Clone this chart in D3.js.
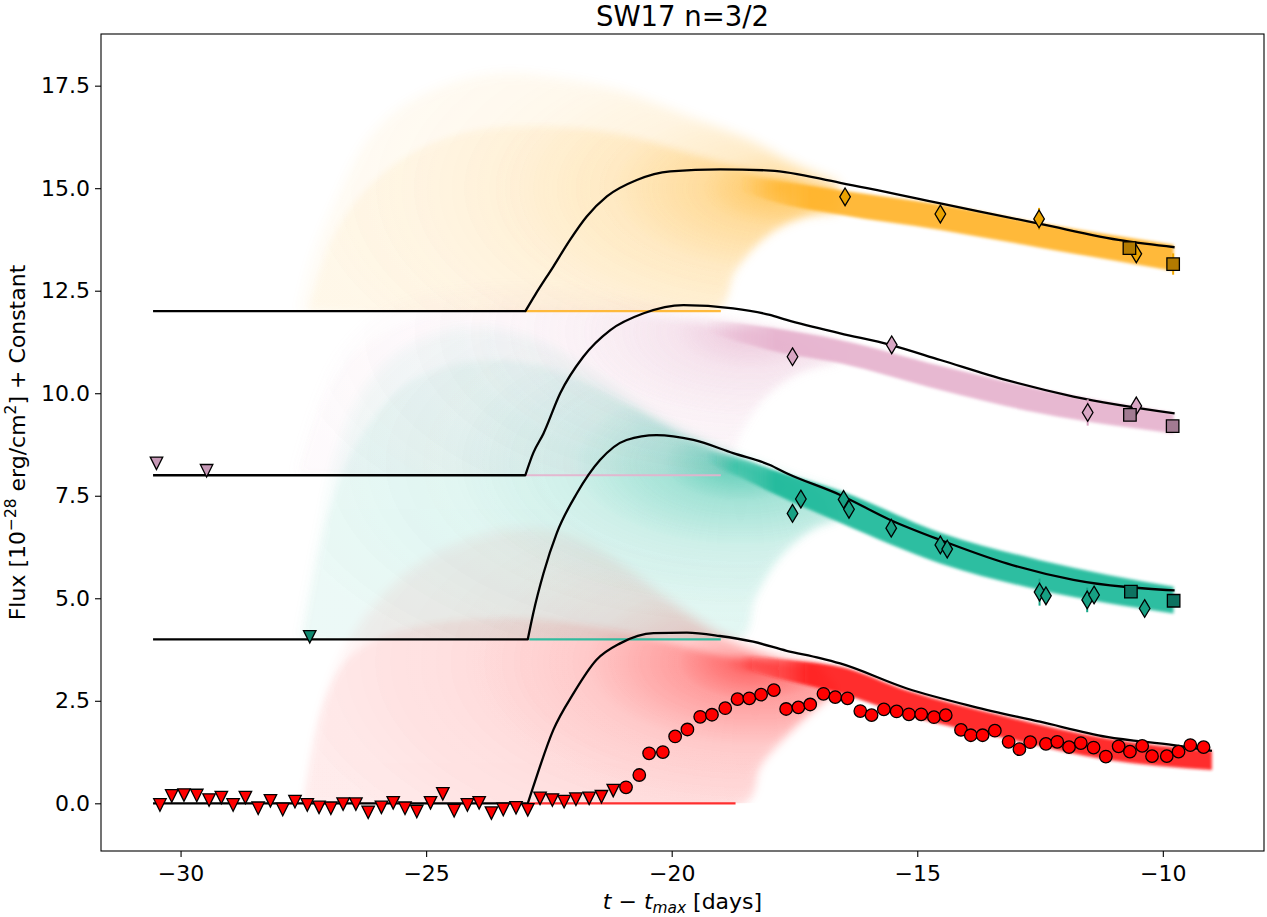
<!DOCTYPE html>
<html><head><meta charset="utf-8">
<script src="https://cdn.jsdelivr.net/npm/d3@7"></script>
<style>
body{margin:0;background:#fff}
svg{display:block}
text{font-family:"DejaVu Sans",sans-serif;fill:#000}
</style>
</head><body>
<svg id="c" width="1267" height="917"></svg>
<script>
// ---------------- data ----------------
const chartTitle = "SW17 n=3/2";
const xTicks = [-30, -25, -20, -15, -10];
const yTicks = [0, 2.5, 5, 7.5, 10, 12.5, 15, 17.5];
const xDomain = [-31.62, -7.94];
const yDomain = [-1.163, 18.76];

// red band (offset 0)
const redLimT = [-30.42,-30.18,-29.93,-29.67,-29.42,-29.17,-28.93,-28.68,-28.42,-28.17,-27.92,-27.67,-27.42,-27.18,-26.94,-26.69,-26.43,-26.18,-25.91,-25.67,-25.43,-25.19,-24.91,-24.66,-24.43,-24.16,-23.92,-23.67,-23.43,-23.17,-22.93,-22.68,-22.43,-22.19,-21.95,-21.68,-21.43,-21.19];
const redLimF = [-0.04,0.18,0.20,0.19,0.08,0.14,-0.04,0.14,-0.12,0.06,-0.15,0.04,-0.04,-0.10,-0.12,-0.02,-0.02,-0.22,-0.10,0.01,-0.12,-0.20,0.01,0.23,-0.18,-0.04,0.01,-0.24,-0.15,-0.11,-0.16,0.12,0.08,0.04,0.10,0.12,0.16,0.31];
const redDetT = [-20.93,-20.66,-20.46,-20.18,-19.93,-19.68,-19.42,-19.18,-18.91,-18.66,-18.42,-18.18,-17.92,-17.67,-17.42,-17.18,-16.91,-16.67,-16.42,-16.16,-15.93,-15.68,-15.42,-15.17,-14.92,-14.66,-14.42,-14.11,-13.91,-13.67,-13.42,-13.14,-12.92,-12.70,-12.38,-12.15,-11.91,-11.67,-11.41,-11.16,-10.90,-10.67,-10.42,-10.22,-9.92,-9.68,-9.44,-9.17];
const redDetF = [0.39,0.69,1.22,1.25,1.63,1.80,2.11,2.16,2.32,2.54,2.56,2.65,2.76,2.30,2.34,2.41,2.67,2.59,2.56,2.25,2.15,2.29,2.24,2.17,2.17,2.10,2.15,1.79,1.66,1.66,1.77,1.50,1.32,1.49,1.45,1.50,1.37,1.47,1.36,1.14,1.39,1.26,1.40,1.15,1.15,1.26,1.42,1.37];
const redModelT = [-30.56,-22.93,-22.82,-22.41,-22.0,-21.53,-21.05,-20.37,-19.69,-19.02,-18.34,-17.66,-16.98,-16.57,-15.21,-13.86,-12.50,-11.14,-9.78,-9.0];
const redModelF = [0,0,0.40,1.79,2.68,3.50,3.90,4.15,4.16,4.08,3.94,3.72,3.54,3.41,2.80,2.36,1.99,1.62,1.42,1.28];
const redBandT  = [-18.6,-18.0,-17.3,-16.57,-15.21,-13.18,-11.14,-9.0];
const redBandHi = [3.60,3.55,3.45,3.33,2.75,2.11,1.58,1.28];
const redBandLo = [3.30,3.10,2.90,2.68,2.15,1.58,1.06,0.81];
const redFanTopT = [-27.5,-27.2,-26.8,-26.2,-25.3,-24.2,-23.0,-22.0,-21.0,-20.0,-19.0,-18.0,-17.0];
const redFanTopF = [0,2.0,3.4,4.6,5.7,6.4,6.7,6.5,5.8,4.9,4.1,3.6,3.4];
const redFanMidT = [-27.5,-27.1,-26.6,-25.8,-24.5,-23.0,-21.5,-20.2,-19.0,-18.0,-17.0];
const redFanMidF = [0,2.4,3.5,4.1,4.45,4.5,4.3,3.95,3.6,3.45,3.35];
const redFanBotT = [-27.5,-18.5,-18.2,-17.7,-17.0,-16.6];
const redFanBotF = [0,0,0.9,1.6,2.4,2.75];
const redFocus = [-18.3, 3.45];
const redBaseSeg = [-22.9,-18.7];

// teal band (offset 4)
const tealLimT = [-27.37], tealLimF = [4.06];
const tealDiaT = [-17.54,-17.37,-16.50,-16.39,-15.53,-14.53,-14.39,-12.51,-12.38,-11.54,-11.40,-10.37];
const tealDiaF = [7.07,7.42,7.41,7.17,6.71,6.30,6.20,5.15,5.06,4.96,5.08,4.75];
const tealDiaE = [0.08,0.08,0.08,0.08,0.08,0.08,0.08,0.33,0.1,0.3,0.1,0.1];
const tealSqT = [-10.65,-9.78], tealSqF = [5.16,4.94], tealSqE = [0.08,0.12];
const tealModelT = [-30.56,-22.93,-22.82,-22.61,-22.34,-21.93,-21.46,-20.92,-20.31,-19.56,-18.75,-18.0,-17.66,-16.57,-15.55,-14.53,-13.18,-11.82,-9.76];
const tealModelF = [4,4,4.63,5.61,6.59,7.56,8.37,8.86,8.98,8.86,8.54,8.25,8.05,7.52,6.91,6.42,5.85,5.45,5.19];
const tealBandT  = [-19.3,-18.6,-18.0,-16.57,-14.53,-12.5,-9.78];
const tealBandHi = [8.60,8.40,8.15,7.62,6.60,5.93,5.28];
const tealBandLo = [8.35,7.95,7.60,6.84,5.85,5.20,4.63];
const tealFanTopT = [-27.6,-27.2,-26.8,-26.2,-25.3,-24.0,-22.8,-21.5,-20.3,-19.0,-17.5,-16.6];
const tealFanTopF = [4,6.5,8.6,10.2,11.2,11.6,11.3,10.4,9.4,8.6,7.9,7.6];
const tealFanMidT = [-27.5,-27.0,-26.4,-25.4,-24.0,-22.5,-21.0,-19.8,-18.5,-17.0];
const tealFanMidF = [4,7.0,8.8,10.2,10.8,10.6,9.8,9.0,8.3,7.6];
const tealFanBotT = [-27.6,-18.6,-18.3,-17.8,-17.1,-16.6];
const tealFanBotF = [4,4,5.0,6.0,6.7,6.9];
const tealFocus = [-18.6, 8.3];
const tealBaseSeg = [-22.9,-19.0];

// pink band (offset 8)
const pinkLimT = [-30.49,-29.47], pinkLimF = [8.29,8.11];
const pinkDiaT = [-17.54,-15.52,-11.53,-10.54], pinkDiaF = [10.89,11.18,9.53,9.69];
const pinkDiaE = [0.08,0.1,0.32,0.12];
const pinkSqT = [-10.67,-9.80], pinkSqF = [9.47,9.20], pinkSqE = [0.08,0.12];
const pinkModelT = [-30.56,-22.98,-22.82,-22.61,-22.27,-21.80,-21.25,-20.57,-19.76,-18.75,-18.0,-17.66,-16.57,-15.55,-14.53,-13.18,-11.82,-9.76];
const pinkModelF = [8,8,8.54,9.02,10.0,10.89,11.54,11.95,12.15,12.07,11.91,11.79,11.46,11.18,10.81,10.32,9.92,9.51];
const pinkBandT  = [-19.3,-18.6,-18.0,-16.57,-14.53,-12.5,-9.78];
const pinkBandHi = [11.80,11.70,11.60,11.30,10.67,10.10,9.52];
const pinkBandLo = [11.50,11.25,11.05,10.73,10.08,9.51,9.02];
const pinkFanTopT = [-27.7,-27.3,-26.8,-26.0,-25.0,-23.5,-22.0,-20.5,-19.0,-17.5,-16.6];
const pinkFanTopF = [8,9.6,10.9,11.9,12.4,12.6,12.5,12.2,11.8,11.5,11.3];
const pinkFanMidT = [-27.6,-27.1,-26.4,-25.2,-23.5,-21.5,-19.5,-17.5];
const pinkFanMidF = [8,9.8,11.0,11.8,12.1,12.0,11.7,11.3];
const pinkFanBotT = [-27.7,-19.0,-18.6,-18.1,-17.4,-16.6];
const pinkFanBotF = [8,8,9.0,9.9,10.5,10.75];
const pinkFocus = [-18.4, 11.5];
const pinkBaseSeg = [-22.98,-19.0];

// orange band (offset 12)
const orangeDiaT = [-16.47,-14.53,-12.52,-10.54], orangeDiaF = [14.79,14.37,14.25,13.40];
const orangeDiaE = [0.08,0.08,0.27,0.1];
const orangeSqT = [-10.68,-9.79], orangeSqF = [13.54,13.15], orangeSqE = [0.06,0.26];
const orangeModelT = [-30.56,-22.98,-22.78,-22.41,-22.07,-21.73,-21.32,-20.71,-20.03,-19.01,-17.99,-16.57,-14.53,-12.50,-10.80,-9.76];
const orangeModelF = [12,12,12.40,13.09,13.74,14.31,14.80,15.20,15.41,15.46,15.43,15.13,14.63,14.13,13.72,13.56];
const orangeBandT  = [-18.6,-18.0,-16.57,-14.53,-12.5,-9.78];
const orangeBandHi = [15.30,15.20,14.95,14.60,14.15,13.62];
const orangeBandLo = [14.95,14.70,14.35,13.98,13.55,12.98];
const orangeFanTopT = [-27.6,-27.3,-26.9,-26.2,-25.5,-24.5,-23.5,-22.5,-21.1,-19.8,-18.4,-17.5,-16.6];
const orangeFanTopF = [12,13.4,14.55,16.18,16.99,17.56,17.80,17.72,17.40,16.83,16.18,15.6,15.15];
const orangeFanMidT = [-27.4,-26.9,-26.2,-25.2,-24.0,-22.5,-21.0,-19.5,-18.0,-16.6];
const orangeFanMidF = [12,13.8,15.0,15.9,16.4,16.5,16.3,15.8,15.3,15.0];
const orangeFanBotT = [-27.6,-19.1,-18.7,-18.0,-17.3,-16.6];
const orangeFanBotF = [12,12,13.0,13.9,14.3,14.4];
const orangeFocus = [-17.8, 15.0];
const orangeBaseSeg = [-22.98,-19.0];

// ---------------- drawing ----------------
const zip = (a, b) => a.map((v, i) => [v, b[i]]);
const svg = d3.select("#c");
const L = 101, R = 1264, T = 34, B = 851;
const x = d3.scaleLinear().domain(xDomain).range([L, R]);
const y = d3.scaleLinear().domain(yDomain).range([B, T]);

const defs = svg.append("defs");
defs.append("clipPath").attr("id", "clip").append("rect")
  .attr("x", L).attr("y", T).attr("width", R - L).attr("height", B - T);
defs.append("filter").attr("id", "blurBand").attr("x", "-10%").attr("y", "-20%").attr("width", "120%").attr("height", "140%")
  .append("feGaussianBlur").attr("stdDeviation", 1.4);
[["blurMaskOuter", 6], ["blurMaskMid", 3.5]].forEach(f =>
  defs.append("filter").attr("id", f[0]).attr("filterUnits", "userSpaceOnUse")
    .attr("x", 0).attr("y", 0).attr("width", 1267).attr("height", 917)
    .append("feGaussianBlur").attr("stdDeviation", f[1]));

const bands = [
  {key:"red", color:"#ff1a1a", stops:[[0,0.85],[0.06,0.6],[0.16,0.38],[0.35,0.2],[0.6,0.12],[1,0.07]],
   top:zip(redFanTopT,redFanTopF), mid:zip(redFanMidT,redFanMidF), bot:zip(redFanBotT,redFanBotF),
   band:redBandT.map((t,i)=>[t,redBandHi[i],redBandLo[i]]), base:0, seg:redBaseSeg, focus:redFocus,
   model:zip(redModelT,redModelF)},
  {key:"teal", color:"#1db99a", stops:[[0,0.85],[0.06,0.6],[0.16,0.36],[0.35,0.18],[0.6,0.11],[1,0.07]],
   top:zip(tealFanTopT,tealFanTopF), mid:zip(tealFanMidT,tealFanMidF), bot:zip(tealFanBotT,tealFanBotF),
   band:tealBandT.map((t,i)=>[t,tealBandHi[i],tealBandLo[i]]), base:4, seg:tealBaseSeg, focus:tealFocus,
   model:zip(tealModelT,tealModelF)},
  {key:"pink", color:"#e6b2ce", stops:[[0,0.85],[0.06,0.55],[0.16,0.3],[0.35,0.14],[0.6,0.08],[1,0.05]],
   top:zip(pinkFanTopT,pinkFanTopF), mid:zip(pinkFanMidT,pinkFanMidF), bot:zip(pinkFanBotT,pinkFanBotF),
   band:pinkBandT.map((t,i)=>[t,pinkBandHi[i],pinkBandLo[i]]), base:8, seg:pinkBaseSeg, focus:pinkFocus,
   model:zip(pinkModelT,pinkModelF)},
  {key:"orange", color:"#ffb42a", stops:[[0,0.9],[0.06,0.65],[0.16,0.42],[0.35,0.24],[0.6,0.14],[1,0.08]],
   top:zip(orangeFanTopT,orangeFanTopF), mid:zip(orangeFanMidT,orangeFanMidF), bot:zip(orangeFanBotT,orangeFanBotF),
   band:orangeBandT.map((t,i)=>[t,orangeBandHi[i],orangeBandLo[i]]), base:12, seg:orangeBaseSeg, focus:orangeFocus,
   model:zip(orangeModelT,orangeModelF)}
];

const cr = d3.line().x(d => x(d[0])).y(d => y(d[1])).curve(d3.curveCatmullRom.alpha(0.5));
function fanPath(top, bot) {
  const a = cr(top);
  const bp = cr(bot.slice().reverse());
  return a + "L" + bp.slice(1) + "Z";
}

bands.forEach(b => {
  const cx = x(b.focus[0]), cy = y(b.focus[1]);
  const g = defs.append("radialGradient").attr("id", "grad-" + b.key)
    .attr("gradientUnits", "userSpaceOnUse")
    .attr("cx", cx).attr("cy", cy).attr("fx", cx).attr("fy", cy).attr("r", 480)
    .attr("gradientTransform", `translate(${cx},${cy}) scale(1,0.5) translate(${-cx},${-cy})`);
  b.stops.forEach(s => g.append("stop").attr("offset", s[0]).attr("stop-color", b.color).attr("stop-opacity", s[1]));
  const lg = defs.append("linearGradient").attr("id", "bandgrad-" + b.key)
    .attr("gradientUnits", "userSpaceOnUse")
    .attr("x1", x(b.band[0][0])).attr("x2", x(b.band[0][0] + 1.4)).attr("y1", 0).attr("y2", 0);
  [[0, 0], [1, 1]].forEach(s => lg.append("stop").attr("offset", s[0]).attr("stop-color", b.color).attr("stop-opacity", s[1]));
  // soft-edged masks for the sample spread
  [["outer", b.top, "blurMaskOuter"], ["mid", b.mid, "blurMaskMid"]].forEach(m => {
    defs.append("mask").attr("id", `mask-${b.key}-${m[0]}`).attr("maskUnits", "userSpaceOnUse")
      .attr("x", 0).attr("y", 0).attr("width", 1267).attr("height", 917)
      .append("path").attr("d", fanPath(m[1], b.bot)).attr("fill", "#fff").attr("filter", `url(#${m[2]})`);
  });
  defs.append("clipPath").attr("id", "above-" + b.key).append("rect")
    .attr("x", L).attr("y", T).attr("width", R - L).attr("height", y(b.base) - T);
});

const plot = svg.append("g").attr("clip-path", "url(#clip)");

// fans (sample spread)
bands.forEach(b => {
  const g = plot.append("g").attr("clip-path", "url(#above-" + b.key + ")");
  g.append("rect").attr("x", L).attr("y", T).attr("width", R - L).attr("height", B - T)
    .attr("fill", "url(#grad-" + b.key + ")").attr("opacity", 0.6).attr("mask", `url(#mask-${b.key}-outer)`);
  g.append("rect").attr("x", L).attr("y", T).attr("width", R - L).attr("height", B - T)
    .attr("fill", "url(#grad-" + b.key + ")").attr("opacity", 0.65).attr("mask", `url(#mask-${b.key}-mid)`);
});

// dense bands
const area = d3.area().x(d => x(d[0])).y0(d => y(d[2])).y1(d => y(d[1])).curve(d3.curveMonotoneX);
bands.forEach(b => {
  plot.append("path").attr("d", area(b.band)).attr("fill", "url(#bandgrad-" + b.key + ")").attr("opacity", 0.92)
    .attr("filter", "url(#blurBand)");
});

// colored baseline segments
bands.forEach(b => {
  plot.append("line").attr("x1", x(b.seg[0])).attr("x2", x(b.seg[1]))
    .attr("y1", y(b.base)).attr("y2", y(b.base))
    .attr("stroke", b.color).attr("stroke-width", 2.2).attr("opacity", 0.9);
});

// model curves
const lin = d3.line().x(d => x(d[0])).y(d => y(d[1]));
const mono = d3.line().x(d => x(d[0])).y(d => y(d[1])).curve(d3.curveMonotoneX);
bands.forEach(b => {
  const m = b.model;
  const p = lin(m.slice(0, 2)) + "L" + mono(m.slice(1)).slice(1);
  plot.append("path").attr("d", p).attr("fill", "none")
    .attr("stroke", "#000").attr("stroke-width", 2.3).attr("stroke-linejoin", "round");
});

// markers
const MS = 12.5;
const symDiamond = (cx, cy) => { const h = MS * 0.707, w = h * 0.6;
  return `M${cx},${cy-h}L${cx+w},${cy}L${cx},${cy+h}L${cx-w},${cy}Z`; };
const symSquare = (cx, cy) => { const h = MS / 2;
  return `M${cx-h},${cy-h}H${cx+h}V${cy+h}H${cx-h}Z`; };
const symTriDown = (cx, cy) => { const h = MS / 2;
  return `M${cx},${cy+h}L${cx-h},${cy-h}L${cx+h},${cy-h}Z`; };

const mk = svg.append("g").attr("clip-path", "url(#clip)");
function errbars(T, F, E, color) {
  T.forEach((t, i) => mk.append("line").attr("x1", x(t)).attr("x2", x(t))
    .attr("y1", y(F[i] - E[i])).attr("y2", y(F[i] + E[i]))
    .attr("stroke", color).attr("stroke-width", 2));
}
function points(T, F, sym, fill) {
  T.forEach((t, i) => mk.append("path").attr("d", sym(x(t), y(F[i])))
    .attr("fill", fill).attr("stroke", "#000").attr("stroke-width", 1.3).attr("stroke-linejoin", "miter"));
}
function circles(T, F, fill) {
  T.forEach((t, i) => mk.append("circle").attr("cx", x(t)).attr("cy", y(F[i])).attr("r", MS / 2)
    .attr("fill", fill).attr("stroke", "#000").attr("stroke-width", 1.3));
}

points(redLimT, redLimF, symTriDown, "#ff0000");
circles(redDetT, redDetF, "#ff0000");

points(tealLimT, tealLimF, symTriDown, "#0f8a70");
errbars(tealDiaT, tealDiaF, tealDiaE, "#1aa88a");
errbars(tealSqT, tealSqF, tealSqE, "#1aa88a");
points(tealDiaT, tealDiaF, symDiamond, "#17a083");
points(tealSqT, tealSqF, symSquare, "#0d7260");

points(pinkLimT, pinkLimF, symTriDown, "#c698b6");
errbars(pinkDiaT, pinkDiaF, pinkDiaE, "#d9a0c0");
errbars(pinkSqT, pinkSqF, pinkSqE, "#d9a0c0");
points(pinkDiaT, pinkDiaF, symDiamond, "#d8a6c3");
points(pinkSqT, pinkSqF, symSquare, "#a27b92");

errbars(orangeDiaT, orangeDiaF, orangeDiaE, "#f0a800");
errbars(orangeSqT, orangeSqF, orangeSqE, "#f0a800");
points(orangeDiaT, orangeDiaF, symDiamond, "#eba300");
points(orangeSqT, orangeSqF, symSquare, "#b27a00");

// frame
svg.append("rect").attr("x", L).attr("y", T).attr("width", R - L).attr("height", B - T)
  .attr("fill", "none").attr("stroke", "#000").attr("stroke-width", 1.1);

// axes
const fmtX = d => (d < 0 ? "\u2212" : "") + Math.abs(d);
const xAxis = svg.append("g").attr("transform", `translate(0,${B})`)
  .call(d3.axisBottom(x).tickValues(xTicks).tickFormat(fmtX).tickSize(6).tickSizeOuter(0).tickPadding(8));
const yAxis = svg.append("g").attr("transform", `translate(${L},0)`)
  .call(d3.axisLeft(y).tickValues(yTicks).tickFormat(d3.format(".1f")).tickSize(6).tickSizeOuter(0).tickPadding(5));
[xAxis, yAxis].forEach(a => {
  a.select(".domain").remove();
  a.selectAll(".tick line").attr("stroke", "#000").attr("stroke-width", 1.1);
  a.selectAll(".tick text").attr("font-size", 22).attr("font-family", "DejaVu Sans").attr("fill", "#000");
});

// title
svg.append("text").attr("x", (L + R) / 2).attr("y", 26).attr("text-anchor", "middle")
  .attr("font-size", 27.5).text(chartTitle);

// x label
const xl = svg.append("text").attr("x", (L + R) / 2).attr("y", 909).attr("text-anchor", "middle").attr("font-size", 22);
xl.append("tspan").attr("font-style", "italic").text("t");
xl.append("tspan").text(" \u2212 ");
xl.append("tspan").attr("font-style", "italic").text("t");
xl.append("tspan").attr("font-style", "italic").attr("font-size", 15.4).attr("dy", 4).text("max");
xl.append("tspan").attr("dy", -4).text(" [days]");

// y label
const yl = svg.append("text").attr("transform", `translate(25,${(T + B) / 2}) rotate(-90)`)
  .attr("text-anchor", "middle").attr("font-size", 22);
yl.append("tspan").text("Flux [10");
yl.append("tspan").attr("font-size", 15.4).attr("dy", -9).text("\u221228");
yl.append("tspan").attr("dy", 9).text(" erg/cm");
yl.append("tspan").attr("font-size", 15.4).attr("dy", -9).text("2");
yl.append("tspan").attr("dy", 9).text("] + Constant");
</script>
</body></html>
